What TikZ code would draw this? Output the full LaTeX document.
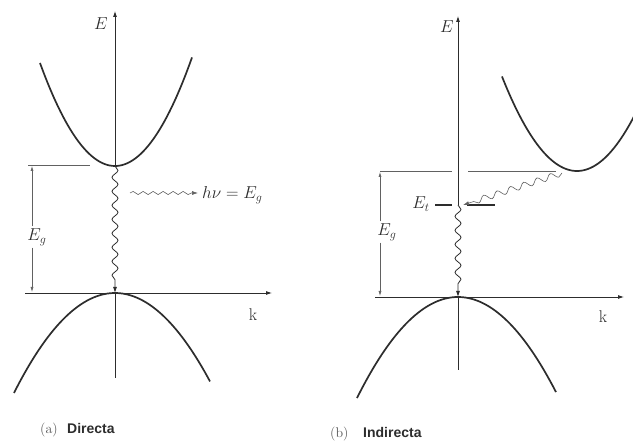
\documentclass[tikz,border=0pt]{standalone}
\usepackage{fontspec}
\newfontfamily\capfont{Liberation Sans}
\usetikzlibrary{arrows.meta,decorations.pathmorphing}
\definecolor{ink}{RGB}{45,45,45}
\begin{document}
\begin{tikzpicture}[x=1pt,y=-1pt,
  band/.style={line width=1.7pt, draw=ink},
  axis/.style={line width=0.8pt, draw=ink},
  thinl/.style={line width=0.6pt, draw=ink!75},
  arr/.style={-{Latex[length=6pt,width=4pt]}},
  wave/.style={decorate, decoration={snake, amplitude=3pt, segment length=14pt, post length=7pt}},
  photon/.style={decorate, decoration={snake, amplitude=1.6pt, segment length=10pt, post length=6pt}},
  lbl/.style={font=\fontsize{17}{19}\selectfont, inner sep=1pt, text=ink},
  captxt/.style={font=\capfont\bfseries\fontsize{14}{16}\selectfont, anchor=base west, inner sep=0pt, text=ink},
  capnum/.style={font=\fontsize{14}{16}\selectfont, anchor=base west, inner sep=0pt, text=ink!80}]
\useasboundingbox[fill=white] (0,0) rectangle (633,443);

% ---------- (a) direct ----------
\coordinate (aEtop) at (115,11);
\coordinate (aEbot) at (115,378);
\coordinate (aCmin) at (115,166);
\coordinate (aVmax) at (115,293);
\coordinate (akL) at (25,293);
\coordinate (akR) at (272,293);
\coordinate (aRefL) at (28,165);
\coordinate (aRefR) at (90,165);
\coordinate (aGtop) at (32,166);
\coordinate (aGbot) at (32,292);
\coordinate (aPhA) at (130,193);
\coordinate (aPhB) at (198,193);

\draw[axis,arr] (aCmin) -- (aEtop);
\draw[axis] (aVmax) -- (aEbot);
\draw[axis,arr] (akL) -- (akR);
\draw[band] plot[domain=40:192, samples=60, smooth] (\x,{166-0.01831*(\x-115)^2});
\draw[band] plot[domain=14:210, samples=60, smooth] (\x,{293+0.0098*(\x-115)^2});
\draw[thinl] (aRefL) -- (aRefR);
\node[lbl, fill=white, inner sep=2pt] (aEg) at (37,237) {$E_g$};
\draw[thinl,-{Latex[length=5pt,width=3pt]}] (aEg.north -| aGtop) -- (aGtop);
\draw[thinl,-{Latex[length=5pt,width=3pt]}] (aEg.south -| aGbot) -- (aGbot);
\draw[axis,wave,arr] (aCmin) -- (aVmax);
\draw[thinl,photon,arr] (aPhA) -- (aPhB);
\node[lbl, anchor=west] (aHv) at (201,195) {$h\nu = E_g$};
\node[lbl] (aE) at (101,24) {$E$};
\node[lbl] (ak) at (253,315) {k};

% ---------- (b) indirect ----------
\coordinate (bEtop) at (458,16);
\coordinate (bEbot) at (458,370);
\coordinate (bEt) at (458,205);
\coordinate (bVmax) at (458,297);
\coordinate (bCmin) at (577,171);
\coordinate (bkL) at (375,297);
\coordinate (bkR) at (624,297);
\coordinate (bRefL) at (380,171);
\coordinate (bRefM1) at (452,171);
\coordinate (bRefM2) at (468,171);
\coordinate (bRefR) at (556,171);
\coordinate (bGtop) at (380,172);
\coordinate (bGbot) at (380,296);
\coordinate (bTa) at (435,205);
\coordinate (bTb) at (452,205);
\coordinate (bTc) at (467,205);
\coordinate (bTd) at (495,205);
\coordinate (bWs) at (562,173);
\coordinate (bWe) at (463,205);

\draw[axis,arr] (bEt) -- (bEtop);
\draw[axis] (bVmax) -- (bEbot);
\draw[axis,arr] (bkL) -- (bkR);
\begin{scope}
\clip (360,0) rectangle (633,443);
\draw[band] plot[domain=502:640, samples=60, smooth] (\x,{171-0.0168*(\x-577)^2});
\end{scope}
\draw[band] plot[domain=357:556, samples=60, smooth] (\x,{297+0.0099*(\x-458)^2});
\draw[thinl] (bRefL) -- (bRefM1);
\draw[thinl] (bRefM2) -- (bRefR);
\node[lbl, fill=white, inner sep=2pt] (bEg) at (387,232) {$E_g$};
\draw[thinl,-{Latex[length=5pt,width=3pt]}] (bEg.north -| bGtop) -- (bGtop);
\draw[thinl,-{Latex[length=5pt,width=3pt]}] (bEg.south -| bGbot) -- (bGbot);
\draw[line width=2pt, draw=ink] (bTa) -- (bTb);
\draw[line width=2pt, draw=ink] (bTc) -- (bTd);
\draw[thinl,wave,arr] (bWs) -- (bWe);
\draw[axis,wave,arr] (bEt) -- (bVmax);
\node[lbl] (bEtl) at (421,204) {$E_t$};
\node[lbl] (bE) at (447,27) {$E$};
\node[lbl] (bk) at (603,317) {k};

% ---------- captions ----------
\node[capnum] (capa) at (40,434) {(a)};
\node[captxt] (capA) at (67,434) {Directa};
\node[capnum] (capb) at (330,438) {(b)};
\node[captxt] (capB) at (363,438) {Indirecta};
\end{tikzpicture}
\end{document}
